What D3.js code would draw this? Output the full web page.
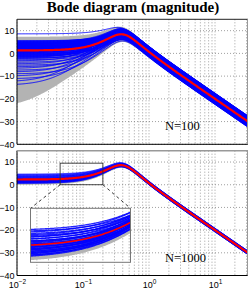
<!DOCTYPE html>
<html><head><meta charset="utf-8">
<script src="https://cdn.jsdelivr.net/npm/d3@7"></script>
<style>body{margin:0;background:#fff}svg{display:block}</style>
</head><body><div id="c"></div>
<script>
// ---- data ----
const title = "Bode diagram (magnitude)";
const panelLabels = ["N=100", "N=1000"];
const yTicks = [10, 0, -10, -20, -30, -40];
const xTickExps = [-2, -1, 0, 1];
const freqDomain = [0.01, 31.6];
const yDomain = [-40, 15];
// model: second-order resonance (natural freq / damping term)
const modelA0 = 0.16, modelA1 = 0.42;
// top panel (N=100): low-frequency gain (dB) and high-frequency gain offset (dB) per drawn sample
const topLowGain = [8.6,5.6,5.3,5.0,4.8,4.5,4.3,4.1,3.9,3.6,3.4,3.2,3.0,2.8,2.6,2.4,2.2,2.0,1.8,1.6,1.4,1.2,1.0,0.8,0.5,0.3,0.0,-0.3,-0.6,-0.9,-1.2,-1.5,-1.9,-2.3,-2.8,-3.3,-3.9,-4.6,-5.2,-5.9,-6.6,-7.4,-8.2,-9.0,-10.0,-11.2,-12.5,-14.0,
  5.45,5.15,4.9,4.65,4.4,4.2,4.0,3.75,3.5,3.3,3.1,2.9,2.7,2.5,2.3,2.1,1.9,1.7,1.5,1.3,1.1,0.9,0.65,0.4,0.15,-0.15,-0.45,-0.75,-1.05,-1.35,-1.7,-2.1];
const topHfOffset = [0.4,-1.1,1.9,0.6,-0.5,2.3,-1.8,1.0,-0.2,1.5,-2.4,0.8,-0.9,2.0,0.1,-1.4,1.2,-0.7,2.5,-2.1,0.3,1.7,-1.0,0.9,-0.3,2.2,-1.6,0.5,-2.5,1.3,-0.4,1.8,-1.2,0.7,-2.0,2.4,-0.6,1.1,-1.7,0.2,2.1,-0.8,1.4,-2.2,0.6,-1.3,1.6,-0.1,
  -0.7,1.2,-2.0,0.4,1.6,-1.2,2.2,-0.3,0.9,-1.9,1.4,-0.5,2.4,-1.5,0.6,-2.3,1.0,-0.1,1.9,-1.1,0.2,2.3,-0.9,1.5,-2.2,0.8,-0.6,1.7,-1.4,0.0,2.0,-1.8];
const topMean = [1.3, 0];            // [low gain, hf offset]
const topGrayLow = [-23.7, -2.5];   // lower envelope
const topGrayHigh = [7.3, 2.3];     // upper envelope
// bottom panel (N=1000)
const botLowGain = [4.7,4.5,4.3,4.1,3.9,3.8,3.6,3.5,3.3,3.2,3.0,2.9,2.8,2.6,2.5,2.4,2.3,2.2,2.1,2.0,1.9,1.8,1.7,1.6,1.5,1.4,1.3,1.2,1.1,1.0,0.9,0.8,0.7,0.6];
const botHfOffset = [0.3,-0.6,0.8,-0.2,0.5,-0.8,0.1,0.7,-0.4,0.6,-0.7,0.2,-0.1,0.8,-0.5,0.4,-0.3,0.6,-0.8,0.0,0.5,-0.6,0.3,-0.2,0.7,-0.4,0.1,-0.7,0.4,-0.1,0.6,-0.5,0.2,-0.3];
const botMean = [2.3, 0];
const botGrayLow = [0.0, -0.9];
const botGrayHigh = [3.0, 0.0];
// zoom region (freq range, dB range) and inset dB range
const zoomFreq = [0.045, 0.2];
const zoomDb = [0, 9.5];
const insetDb = [0, 8];

// ---- drawing ----
const W = 249, H = 289;
const svg = d3.select("#c").append("svg").attr("width", W).attr("height", H);
const x = d3.scaleLog().domain(freqDomain).range([17, 248]);
const panels = [
  {y0: 19.3, y1: 144.3, samples: topLowGain.map((g,i)=>[g, topHfOffset[i]]), mean: topMean, gl: topGrayLow, gh: topGrayHigh, label: panelLabels[0], lw: 0.9, lo: 1},
  {y0: 150.7, y1: 275.5, samples: botLowGain.map((g,i)=>[g, botHfOffset[i]]), mean: botMean, gl: botGrayLow, gh: botGrayHigh, label: panelLabels[1], lw: 0.8, lo: 0.85}
];

function mag(w, p) {
  const k = Math.pow(10, p[1]/20);
  const z = modelA0 * Math.pow(10, p[0]/20) / k;
  const num = k * Math.hypot(z, w);
  const den = Math.hypot(modelA0 - w*w, modelA1*w);
  return 20*Math.log10(num/den);
}
function freqs(dom, n) {
  const a = Math.log10(dom[0]), b = Math.log10(dom[1]);
  return d3.range(n+1).map(i => Math.pow(10, a + (b-a)*i/n));
}
const gridFreqs = [];
for (let e = -2; e <= 1; e++) for (let m = 1; m <= 9; m++) { const f = m*Math.pow(10,e); if (f <= freqDomain[1]) gridFreqs.push(f); }

svg.append("text").attr("x", 133).attr("y", 12).attr("text-anchor","middle")
  .attr("font-family","Liberation Serif").attr("font-weight","bold").attr("font-size",15).text(title);

panels.forEach((P, pi) => {
  const y = d3.scaleLinear().domain(yDomain).range([P.y1, P.y0]);
  P.y = y;
  const g = svg.append("g");
  const cid = "clip" + pi;
  svg.append("clipPath").attr("id", cid).append("rect").attr("x", 17).attr("y", P.y0).attr("width", 231).attr("height", P.y1 - P.y0);
  const grid = g.append("g").attr("stroke","#777").attr("stroke-width",0.7).attr("stroke-dasharray","1,2");
  gridFreqs.forEach(f => grid.append("line").attr("x1", x(f)).attr("x2", x(f)).attr("y1", P.y0).attr("y2", P.y1));
  yTicks.forEach(t => grid.append("line").attr("x1", 17).attr("x2", 248).attr("y1", y(t)).attr("y2", y(t)));
  const plot = g.append("g").attr("clip-path", `url(#${cid})`);
  const fs = freqs(freqDomain, 300);
  const area = d3.area().x(d => x(d)).y0(d => y(mag(d, P.gl))).y1(d => y(mag(d, P.gh)));
  plot.append("path").attr("d", area(fs)).attr("fill", "#b3b3b3");
  P.samples.forEach(s => {
    const line = d3.line().x(d => x(d)).y(d => y(mag(d, s)));
    plot.append("path").attr("d", line(fs)).attr("fill","none").attr("stroke","#0000ff").attr("stroke-width",P.lw).attr("stroke-opacity",P.lo);
  });
  const ml = d3.line().x(d => x(d)).y(d => y(mag(d, P.mean)));
  plot.append("path").attr("d", ml(fs)).attr("fill","none").attr("stroke","#ff0000").attr("stroke-width",2.2);
  // frame
  g.append("line").attr("x1",17).attr("x2",17).attr("y1",P.y0).attr("y2",P.y1).attr("stroke","#000");
  g.append("line").attr("x1",17).attr("x2",248).attr("y1",P.y1).attr("y2",P.y1).attr("stroke","#000");
  g.append("line").attr("x1",17).attr("x2",248).attr("y1",P.y0).attr("y2",P.y0).attr("stroke", pi===0 ? "#222" : "#999").attr("stroke-width", pi===0 ? 1 : 1.6);
  g.append("line").attr("x1",247.5).attr("x2",247.5).attr("y1",P.y0).attr("y2",P.y1).attr("stroke","#999");
  // y ticks
  yTicks.forEach(t => {
    g.append("text").attr("x", 14.5).attr("y", y(t) + 3.2).attr("text-anchor","end")
      .attr("font-family","Liberation Sans").attr("font-size",9).text(t < 0 ? "\u2212" + (-t) : String(t));
  });
  g.append("text").attr("x", 165).attr("y", pi===0 ? 130 : 262).attr("font-family","Liberation Serif").attr("font-size",12.5).text(P.label);
});

// x tick labels (bottom panel only)
xTickExps.forEach(e => {
  const t = svg.append("text").attr("x", x(Math.pow(10,e)) + 0.5).attr("y", 288).attr("text-anchor","middle")
    .attr("font-family","Liberation Sans").attr("font-size",9);
  t.append("tspan").text("10");
  t.append("tspan").attr("dy",-4.5).attr("font-size",6.5).text(e < 0 ? "\u2212" + (-e) : String(e));
});

// zoom rectangle + inset
const PB = panels[1], yb = PB.y;
const rx0 = x(zoomFreq[0]), rx1 = x(zoomFreq[1]), ry0 = yb(zoomDb[1]), ry1 = yb(zoomDb[0]);
svg.append("rect").attr("x", rx0).attr("y", ry0).attr("width", rx1-rx0).attr("height", ry1-ry0)
  .attr("fill","none").attr("stroke","#333").attr("stroke-width",0.9);
const ix0 = 30.5, ix1 = 130.5, iy0 = 208.3, iy1 = 262.3;
svg.append("line").attr("x1",rx0).attr("y1",ry1).attr("x2",ix0).attr("y2",iy0).attr("stroke","#222").attr("stroke-width",0.9).attr("stroke-dasharray","3,3");
svg.append("line").attr("x1",rx1).attr("y1",ry1).attr("x2",ix1).attr("y2",iy0).attr("stroke","#222").attr("stroke-width",0.9).attr("stroke-dasharray","3,3");
const xi = d3.scaleLog().domain(zoomFreq).range([ix0, ix1]);
const yi = d3.scaleLinear().domain(insetDb).range([iy1, iy0]);
svg.append("clipPath").attr("id","clipI").append("rect").attr("x",ix0).attr("y",iy0).attr("width",ix1-ix0).attr("height",iy1-iy0);
const ins = svg.append("g");
ins.append("rect").attr("x",ix0).attr("y",iy0).attr("width",ix1-ix0).attr("height",iy1-iy0).attr("fill","#fff");
const ip = ins.append("g").attr("clip-path","url(#clipI)");
const ig = ip.append("g").attr("stroke","#777").attr("stroke-width",0.7).attr("stroke-dasharray","1,2");
gridFreqs.forEach(f => ig.append("line").attr("x1", x(f)).attr("x2", x(f)).attr("y1", iy0).attr("y2", iy1));
yTicks.forEach(t => ig.append("line").attr("x1", ix0).attr("x2", ix1).attr("y1", yb(t)).attr("y2", yb(t)));
const ifs = freqs(zoomFreq, 120);
const iarea = d3.area().x(d => xi(d)).y0(d => yi(mag(d, PB.gl))).y1(d => yi(mag(d, PB.gh)));
ip.append("path").attr("d", iarea(ifs)).attr("fill","#b3b3b3");
PB.samples.forEach(s => {
  const line = d3.line().x(d => xi(d)).y(d => yi(mag(d, s)));
  ip.append("path").attr("d", line(ifs)).attr("fill","none").attr("stroke","#0000ff").attr("stroke-width",1.3).attr("stroke-opacity",0.85);
});
const iml = d3.line().x(d => xi(d)).y(d => yi(mag(d, PB.mean)));
ip.append("path").attr("d", iml(ifs)).attr("fill","none").attr("stroke","#ff0000").attr("stroke-width",1.6);
ins.append("rect").attr("x",ix0).attr("y",iy0).attr("width",ix1-ix0).attr("height",iy1-iy0).attr("fill","none").attr("stroke","#777").attr("stroke-width",1);
</script></body></html>
